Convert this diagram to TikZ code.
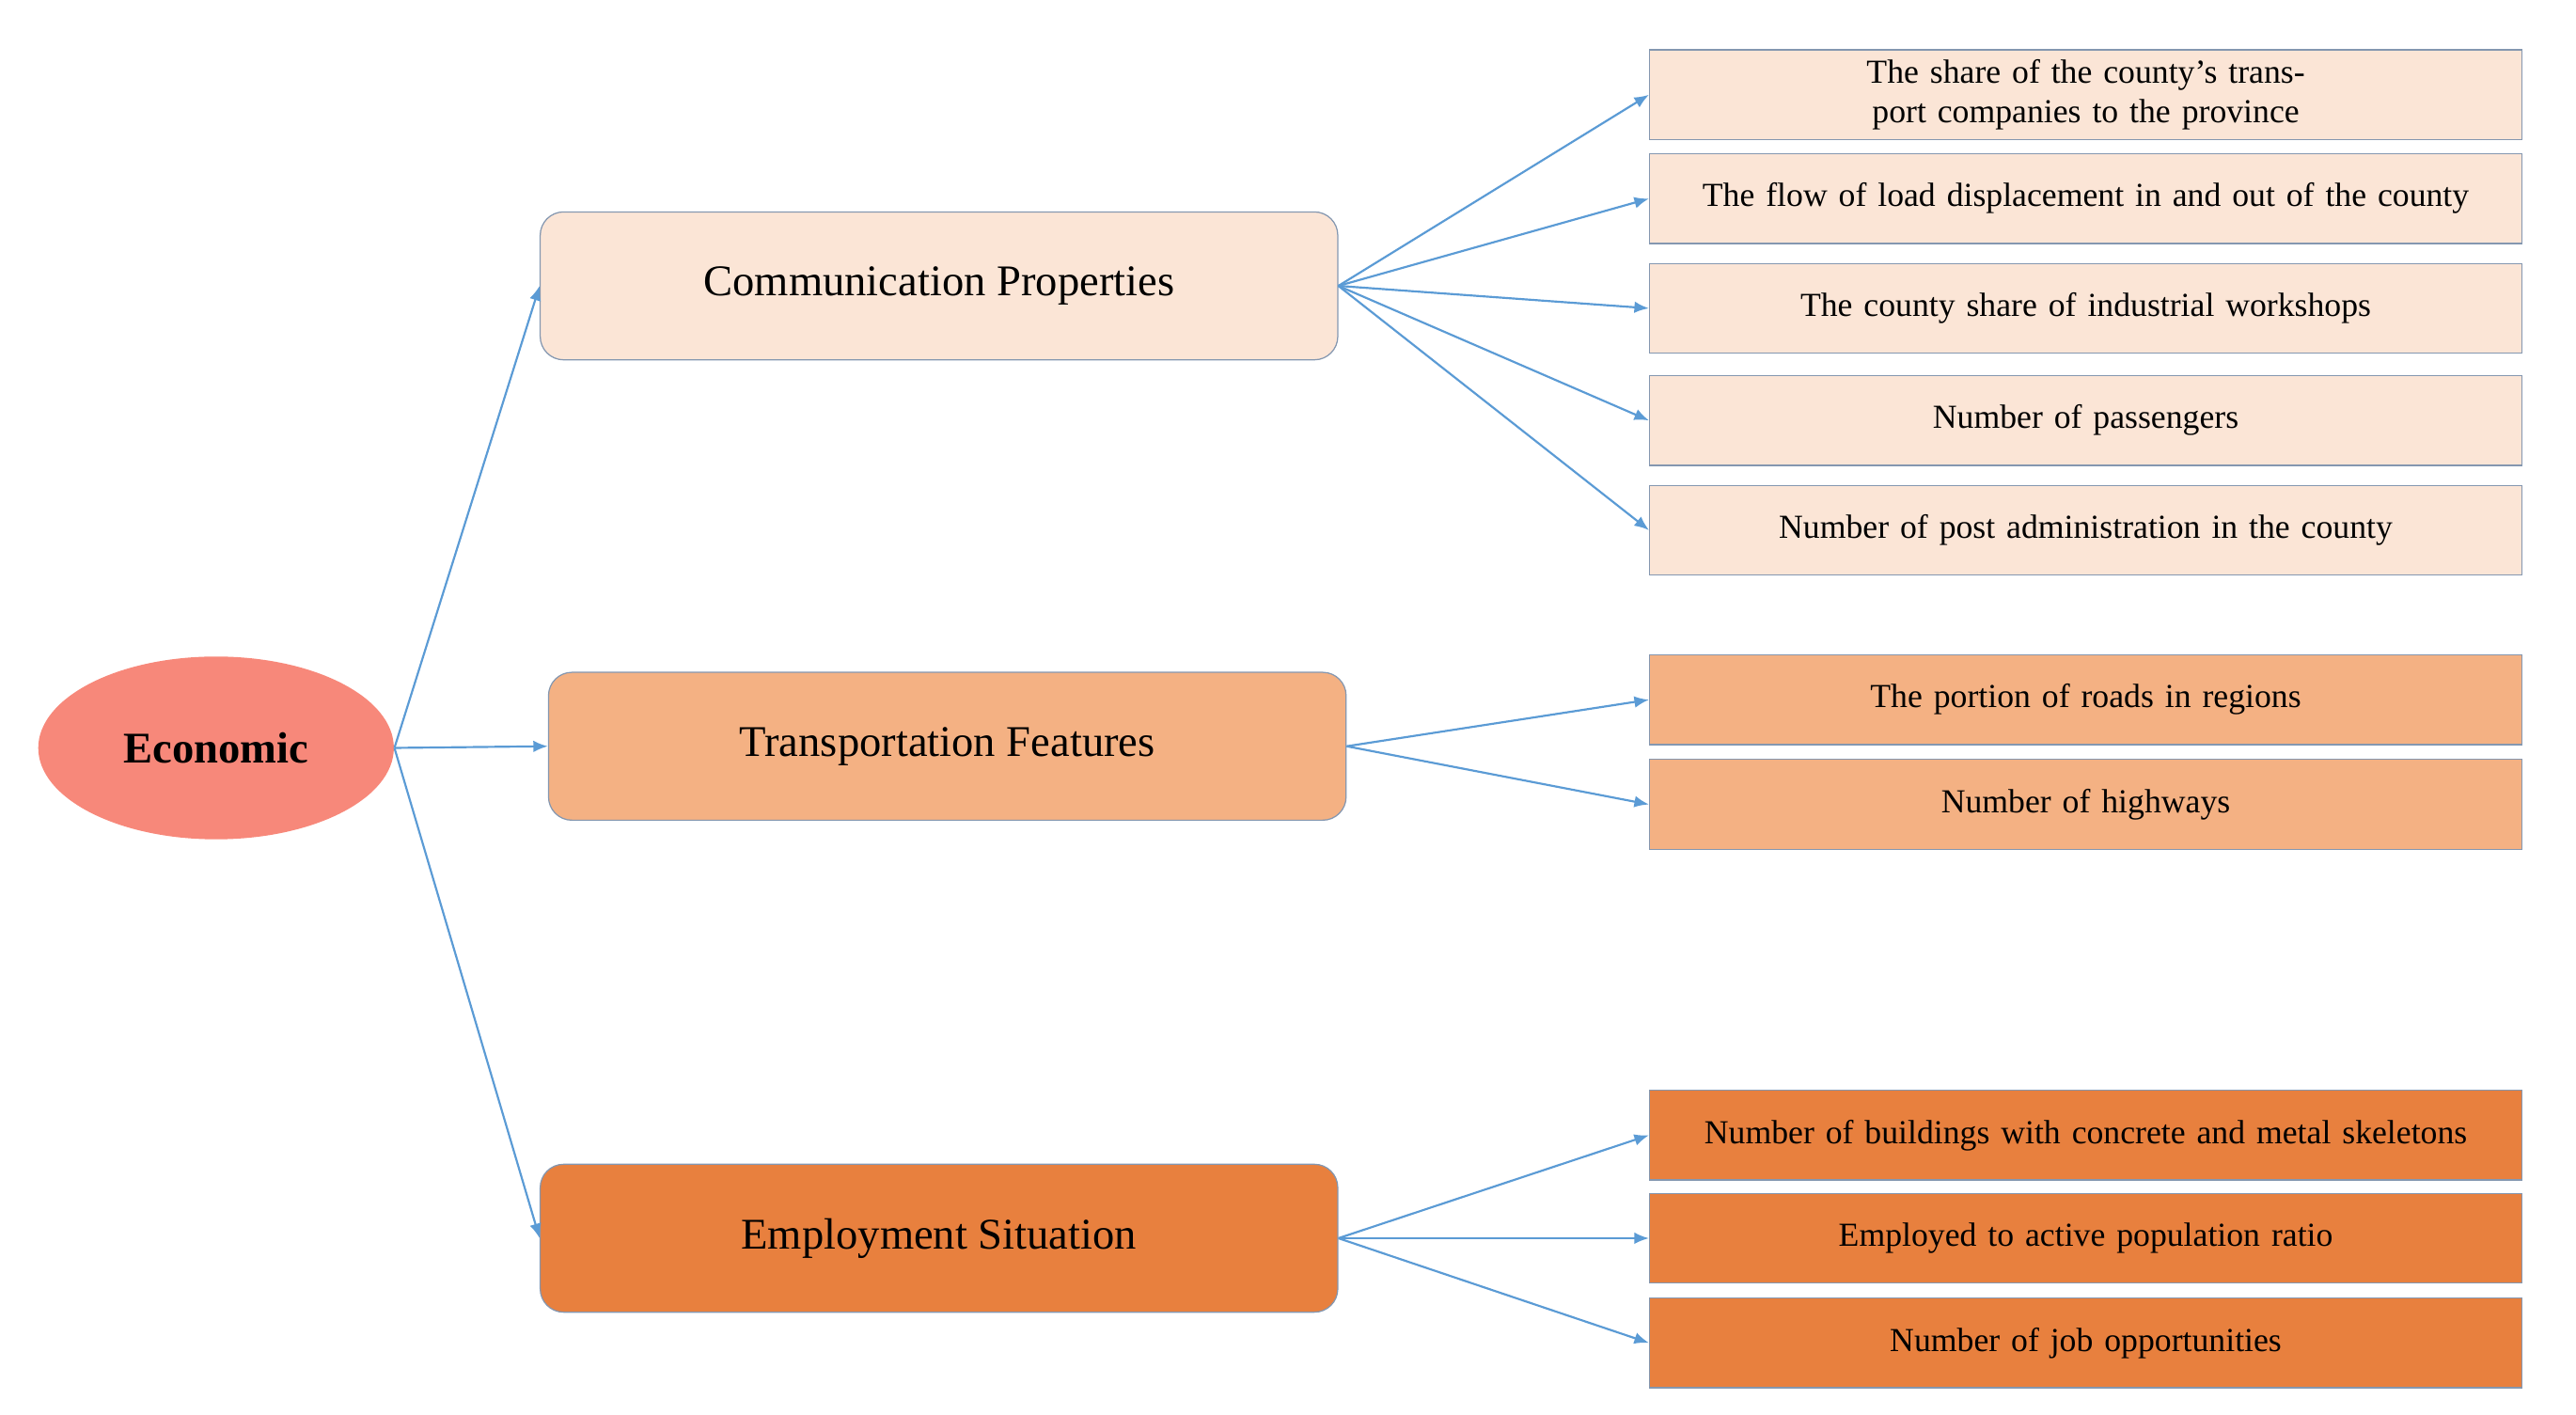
\documentclass[tikz,border=0pt]{standalone}
\usepackage{fontspec}
\setmainfont{Liberation Serif}
\usetikzlibrary{shapes.geometric,arrows.meta}
\definecolor{c1}{HTML}{FBE5D6}
\definecolor{c2}{HTML}{F4B183}
\definecolor{c3}{HTML}{E8803E}
\definecolor{ell}{HTML}{F7887A}
\definecolor{arr}{HTML}{5B9BD5}
\definecolor{bd}{HTML}{8497B0}
\begin{document}
\begin{tikzpicture}[x=0.02cm,y=-0.02cm,
 mid/.style={draw=bd,rounded corners=8pt,minimum width=9.6cm,minimum height=1.78cm,font=\fontsize{15}{18}\selectfont},
 leaf/.style={draw=bd,minimum width=10.5cm,minimum height=1.08cm,text width=10cm,align=center,font=\fontsize{11.5}{13.5}\selectfont},
 ar/.style={draw=arr,-{Latex[length=5pt,width=4pt]},line width=0.7pt}]
\useasboundingbox (0,0) rectangle (1550,851);
\node[ellipse,fill=ell,minimum width=4.28cm,minimum height=2.2cm,font=\bfseries\fontsize{15}{18}\selectfont] (e) at (130,450) {Economic};
\node[mid,fill=c1] (m1) at (565,172) {Communication Properties};
\node[mid,fill=c2] (m2) at (570,449) {Transportation Features};
\node[mid,fill=c3] (m3) at (565,745) {Employment Situation};
\node[leaf,fill=c1] (a1) at (1255,57) {The share of the county’s transport companies to the province};
\node[leaf,fill=c1] (a2) at (1255,119.5) {The flow of load displacement in and out of the county};
\node[leaf,fill=c1] (a3) at (1255,185.5) {The county share of industrial workshops};
\node[leaf,fill=c1] (a4) at (1255,253) {Number of passengers};
\node[leaf,fill=c1] (a5) at (1255,319) {Number of post administration in the county};
\node[leaf,fill=c2] (b1) at (1255,421) {The portion of roads in regions};
\node[leaf,fill=c2] (b2) at (1255,484) {Number of highways};
\node[leaf,fill=c3] (d1) at (1255,683) {Number of buildings with concrete and metal skeletons};
\node[leaf,fill=c3] (d2) at (1255,745) {Employed to active population ratio};
\node[leaf,fill=c3] (d3) at (1255,808) {Number of job opportunities};
\draw[ar] (e.east) -- (m1.west);
\draw[ar] (e.east) -- (m2.west);
\draw[ar] (e.east) -- (m3.west);
\foreach \t in {a1,a2,a3,a4,a5} \draw[ar] (m1.east) -- (\t.west);
\foreach \t in {b1,b2} \draw[ar] (m2.east) -- (\t.west);
\foreach \t in {d1,d2,d3} \draw[ar] (m3.east) -- (\t.west);
\end{tikzpicture}
\end{document}
